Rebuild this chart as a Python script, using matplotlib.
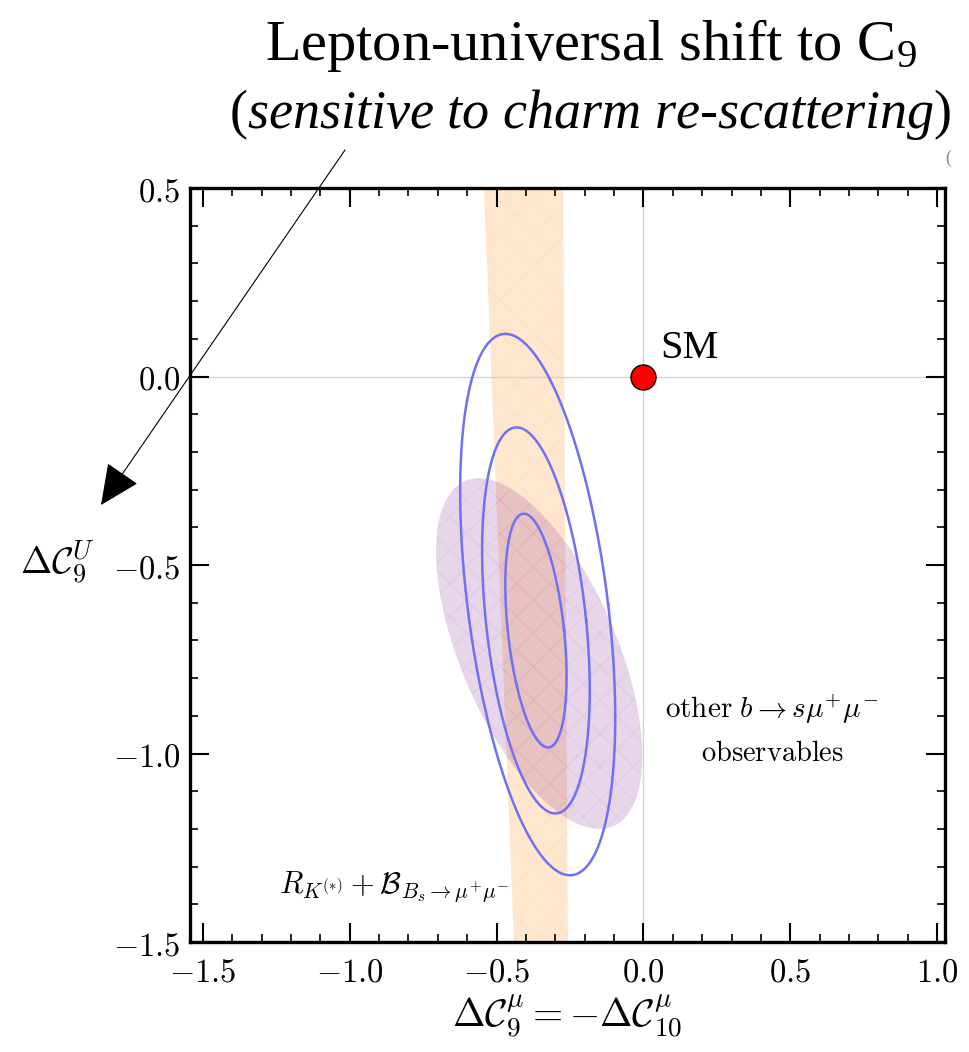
import numpy as np
import matplotlib
matplotlib.use("Agg")
import matplotlib.pyplot as plt
from matplotlib.patches import Polygon, FancyArrowPatch, ArrowStyle

plt.rcParams['mathtext.fontset'] = 'cm'
plt.rcParams['mathtext.rm'] = 'Liberation Serif'
plt.rcParams['mathtext.it'] = 'Liberation Serif:italic'
plt.rcParams['mathtext.bf'] = 'Liberation Serif:bold'

# ---------------- data ----------------
x_ticks = [-1.5, -1.0, -0.5, 0.0, 0.5, 1.0]
y_ticks = [-1.5, -1.0, -0.5, 0.0, 0.5]
x_tick_labels = [r"$-1.5$", r"$-1.0$", r"$-0.5$", r"$0.0$", r"$0.5$", r"$1.0$"]
y_tick_labels = [r"$-1.5$", r"$-1.0$", r"$-0.5$", r"$0.0$", r"$0.5$"]

# orange band (R_K + B_s->mumu): edges at the top and bottom of the plot
band_y = [0.5, -1.5]
band_left = [-0.543, -0.441]
band_right = [-0.274, -0.257]

# purple ellipse (other b->s mu mu observables): center, half-height, shear, half-width
purple_cx, purple_cy = -0.355, -0.735
purple_h, purple_s, purple_w = 0.465, -0.205, 0.285

# blue global-fit contours (1, 2, 3 sigma)
contour_cx = [-0.366, -0.366, -0.360]
contour_cy = [-0.674, -0.647, -0.605]
contour_h = [0.31, 0.512, 0.718]
contour_s = [-0.041, -0.066, -0.11]
contour_w = [0.096, 0.171, 0.24]

sm_x, sm_y = [0.0], [0.0]

# ---------------- figure ----------------
W, H = 969, 1052
fig = plt.figure(figsize=(W / 100, H / 100), dpi=100)
ax = fig.add_axes([190 / W, 1 - 942 / H, (945 - 190) / W, (942 - 188) / H])
ax.set_xlim(-1.544, 1.027)
ax.set_ylim(-1.5, 0.495)

t = np.linspace(0, 2 * np.pi, 400)

# band
band_poly = [(band_left[0], band_y[0]), (band_right[0], band_y[0]),
             (band_right[1], band_y[1]), (band_left[1], band_y[1])]
ax.add_patch(Polygon(band_poly, closed=True, facecolor='#FFE7CF', edgecolor='none', zorder=1))
ax.add_patch(Polygon(band_poly, closed=True, facecolor='none', edgecolor=(1.0, 0.72, 0.45, 0.10),
                     hatch='x', linewidth=0, zorder=1.1))

# grid lines at zero
ax.axvline(0, color='#D4D4D4', lw=1.0, zorder=1.5)
ax.axhline(0, color='#D4D4D4', lw=1.0, zorder=1.5)

# purple ellipse
px = purple_cx + purple_w * np.cos(t) + purple_s * np.sin(t)
py = purple_cy + purple_h * np.sin(t)
ax.fill(px, py, facecolor=(0.50, 0.15, 0.55, 0.19), edgecolor='none', zorder=2)
ax.fill(px, py, facecolor='none', edgecolor=(0.55, 0.3, 0.6, 0.07), hatch='x', linewidth=0, zorder=2.1)

# contours
for cx, cy, h, s, w in zip(contour_cx, contour_cy, contour_h, contour_s, contour_w):
    ax.plot(cx + w * np.cos(t) + s * np.sin(t), cy + h * np.sin(t),
            color='#7070F2', lw=1.8, zorder=3)

# SM point
ax.plot(sm_x, sm_y, 'o', ms=18, mfc='#FF0000', mec='black', mew=1.0, zorder=5, clip_on=False)
ax.text(0.057, 0.074, "SM", fontfamily='Liberation Serif', fontsize=29, ha='left', va='center', zorder=5)

# annotations inside plot
ax.text(0.438, -0.905, r"$\mathrm{other}\ b \to s\mu^{+}\mu^{-}$", fontsize=21, ha='center', va='baseline')
ax.text(0.438, -1.019, r"$\mathrm{observables}$", fontsize=20.5, ha='center', va='baseline')
ax.text(-0.851, -1.370, r"$R_{K^{(*)}} + \mathcal{B}_{B_s\to\mu^{+}\mu^{-}}$", fontsize=22,
        ha='center', va='baseline')

# ticks
ax.set_xticks(x_ticks)
ax.set_xticklabels(x_tick_labels)
ax.set_yticks(y_ticks)
ax.set_yticklabels(y_tick_labels)
ax.set_xticks(np.arange(-1.5, 1.01, 0.1), minor=True)
ax.set_yticks(np.arange(-1.5, 0.51, 0.1), minor=True)
ax.tick_params(which='both', direction='in', top=True, right=True, labelsize=23.5)
ax.tick_params(which='major', length=14, width=1.5)
ax.tick_params(which='minor', length=5.5, width=1.2)
ax.tick_params(axis='x', which='major', pad=10)
ax.tick_params(axis='y', which='major', pad=7)
for sp in ax.spines.values():
    sp.set_linewidth(2.4)

# axis labels
fig.text(567.5 / W, 1 - 1016 / H, r"$\Delta\mathcal{C}_9^{\mu} = -\Delta\mathcal{C}_{10}^{\mu}$",
         fontsize=28, ha='center', va='center')
fig.text(57 / W, 1 - 563 / H, r"$\Delta\mathcal{C}_9^{U}$", fontsize=27, ha='center', va='center')

# title
fig.text(591 / W, 1 - 60 / H, r"Lepton-universal shift to C$_9$", fontfamily='Liberation Serif',
         fontsize=42, ha='center', va='baseline', math_fontfamily='custom')
fig.text(590 / W, 1 - 128 / H, r"$\mathrm{(}$sensitive to charm re-scattering$\mathrm{)}$",
         fontfamily='Liberation Serif', fontstyle='italic', fontsize=39, ha='center', va='baseline',
         math_fontfamily='custom')
fig.text(945 / W, 1 - 158 / H, "(", fontfamily='Liberation Serif', fontsize=13, color='#888888',
         ha='left', va='center')

# arrow
arrow = FancyArrowPatch((345 / W, 1 - 150 / H), (101 / W, 1 - 505 / H),
                        transform=fig.transFigure,
                        arrowstyle=ArrowStyle('-|>', head_length=1.3, head_width=0.6),
                        mutation_scale=20, color='black', lw=0.8, shrinkA=0, shrinkB=0)
fig.add_artist(arrow)

fig.savefig("out.png", dpi=100)
